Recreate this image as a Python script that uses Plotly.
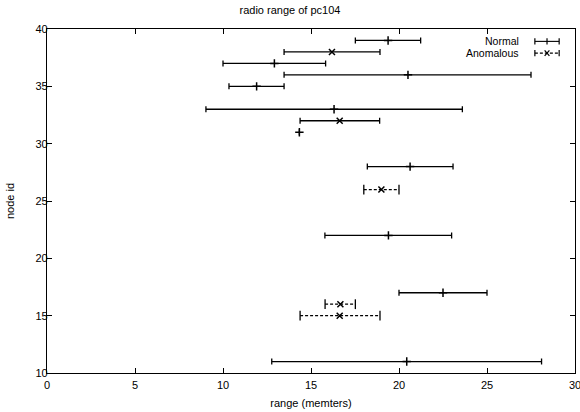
import plotly.graph_objects as go

# node ids and range estimates (centre, min, max) in metres
normal_id = [39, 37, 36, 35, 33, 31, 28, 22, 17, 11]
normal_mid = [19.38, 12.92, 20.51, 11.91, 16.31, 14.34, 20.63, 19.40, 22.50, 20.44]
normal_lo = [17.52, 10.00, 13.47, 10.34, 9.03, 14.34, 18.20, 15.79, 20.00, 12.77]
normal_hi = [21.23, 15.83, 27.50, 13.47, 23.60, 14.34, 23.07, 22.99, 25.00, 28.10]

# anomalous nodes drawn with a solid bar
anom_id = [38, 32]
anom_mid = [16.19, 16.63]
anom_lo = [13.47, 14.38]
anom_hi = [18.92, 18.90]

# anomalous nodes drawn with a dashed bar
anom_d_id = [26, 16, 15]
anom_d_mid = [19.00, 16.67, 16.63]
anom_d_lo = [18.00, 15.80, 14.38]
anom_d_hi = [20.00, 17.52, 18.92]

FONT = "Liberation Sans, Arial, sans-serif"


def errbar_trace(ids, mid, lo, hi, symbol, name):
    return go.Scatter(
        x=mid, y=ids, mode="markers", name=name, showlegend=False,
        marker=dict(symbol=symbol, size=6, color="black",
                    line=dict(width=1.5, color="black")),
        error_x=dict(type="data", symmetric=False,
                     array=[h - m for h, m in zip(hi, mid)],
                     arrayminus=[m - l for m, l in zip(mid, lo)],
                     color="black", thickness=1.3, width=3),
    )


fig = go.Figure()
fig.add_trace(errbar_trace(normal_id, normal_mid, normal_lo, normal_hi,
                           "cross-thin-open", "Normal"))
fig.add_trace(errbar_trace(anom_id, anom_mid, anom_lo, anom_hi,
                           "x-thin-open", "Anomalous"))

# dashed bars: plotly error bars cannot dash, so draw the line separately
fig.add_trace(go.Scatter(
    x=[v for l, h in zip(anom_d_lo, anom_d_hi) for v in (l, h, None)],
    y=[v for i in anom_d_id for v in (i, i, None)],
    mode="lines", showlegend=False, hoverinfo="skip",
    line=dict(color="black", width=1.2, dash="3px,2px"),
))
fig.add_trace(go.Scatter(
    x=[v for l, h in zip(anom_d_lo, anom_d_hi) for v in (l, h)],
    y=[v for i in anom_d_id for v in (i, i)],
    mode="markers", showlegend=False, hoverinfo="skip",
    marker=dict(symbol="line-ns", size=7, color="black",
                line=dict(width=1.3, color="black")),
))
fig.add_trace(go.Scatter(
    x=anom_d_mid, y=anom_d_id, mode="markers", showlegend=False,
    marker=dict(symbol="x-thin-open", size=6, color="black",
                line=dict(width=1.5, color="black")),
))

# gnuplot-style key, top right: text then sample
key_rows = [("Normal", 0.964, "solid", "cross-thin-open"),
            ("Anomalous", 0.930, "3px,2px", "x-thin-open")]
for label, yk, dash, sym in key_rows:
    fig.add_annotation(x=0.896, y=yk, xref="paper", yref="paper",
                       text=label, showarrow=False, xanchor="right",
                       yanchor="middle", borderpad=0,
                       font=dict(family=FONT, size=10.5, color="black"))
    fig.add_shape(type="line", xref="paper", yref="paper",
                  x0=0.924, x1=0.97, y0=yk, y1=yk,
                  line=dict(color="black", width=1.1, dash=dash))
    for xc in (0.924, 0.97):
        fig.add_shape(type="line", xref="paper", yref="paper",
                      x0=xc, x1=xc, y0=yk - 0.009, y1=yk + 0.009,
                      line=dict(color="black", width=1.2))
    if sym.startswith("cross"):
        fig.add_shape(type="line", xref="paper", yref="paper",
                      x0=0.947, x1=0.947, y0=yk - 0.009, y1=yk + 0.009,
                      line=dict(color="black", width=1.2))
    else:
        fig.add_shape(type="line", xref="paper", yref="paper",
                      x0=0.9425, x1=0.9515, y0=yk - 0.008, y1=yk + 0.008,
                      line=dict(color="black", width=1.2))
        fig.add_shape(type="line", xref="paper", yref="paper",
                      x0=0.9425, x1=0.9515, y0=yk + 0.008, y1=yk - 0.008,
                      line=dict(color="black", width=1.2))

axis_style = dict(showline=True, linecolor="black", linewidth=1.3, mirror="ticks",
                  ticks="inside", ticklen=5, tickcolor="black", tickwidth=1,
                  showgrid=False, zeroline=False, automargin=False,
                  ticklabeloverflow="allow",
                  tickfont=dict(family=FONT, size=11, color="black"))

fig.update_layout(
    width=580, height=412,
    margin=dict(l=47, r=5, t=29, b=39),
    paper_bgcolor="white", plot_bgcolor="white",
    title=dict(text="radio range of pc104", x=0.5, xanchor="center",
               y=0.975, yanchor="middle", automargin=False,
               font=dict(family=FONT, size=11, color="black")),
    xaxis=dict(range=[0, 30], dtick=5, tick0=0, ticklabelstandoff=2,
               title=dict(text="range (memters)", standoff=8,
                          font=dict(family=FONT, size=11, color="black")),
               **axis_style),
    yaxis=dict(range=[10, 40], dtick=5, tick0=10, ticklabelstandoff=-4,
               title=dict(text="node id", standoff=18,
                          font=dict(family=FONT, size=11, color="black")),
               **axis_style),
    showlegend=False,
)

# drop the default page margin so the figure sits at the window's corner
fig.write_html(
    "out.html",
    config={"displayModeBar": False},
    post_script="document.body.style.margin='0';"
                "document.body.style.overflow='hidden';",
)
